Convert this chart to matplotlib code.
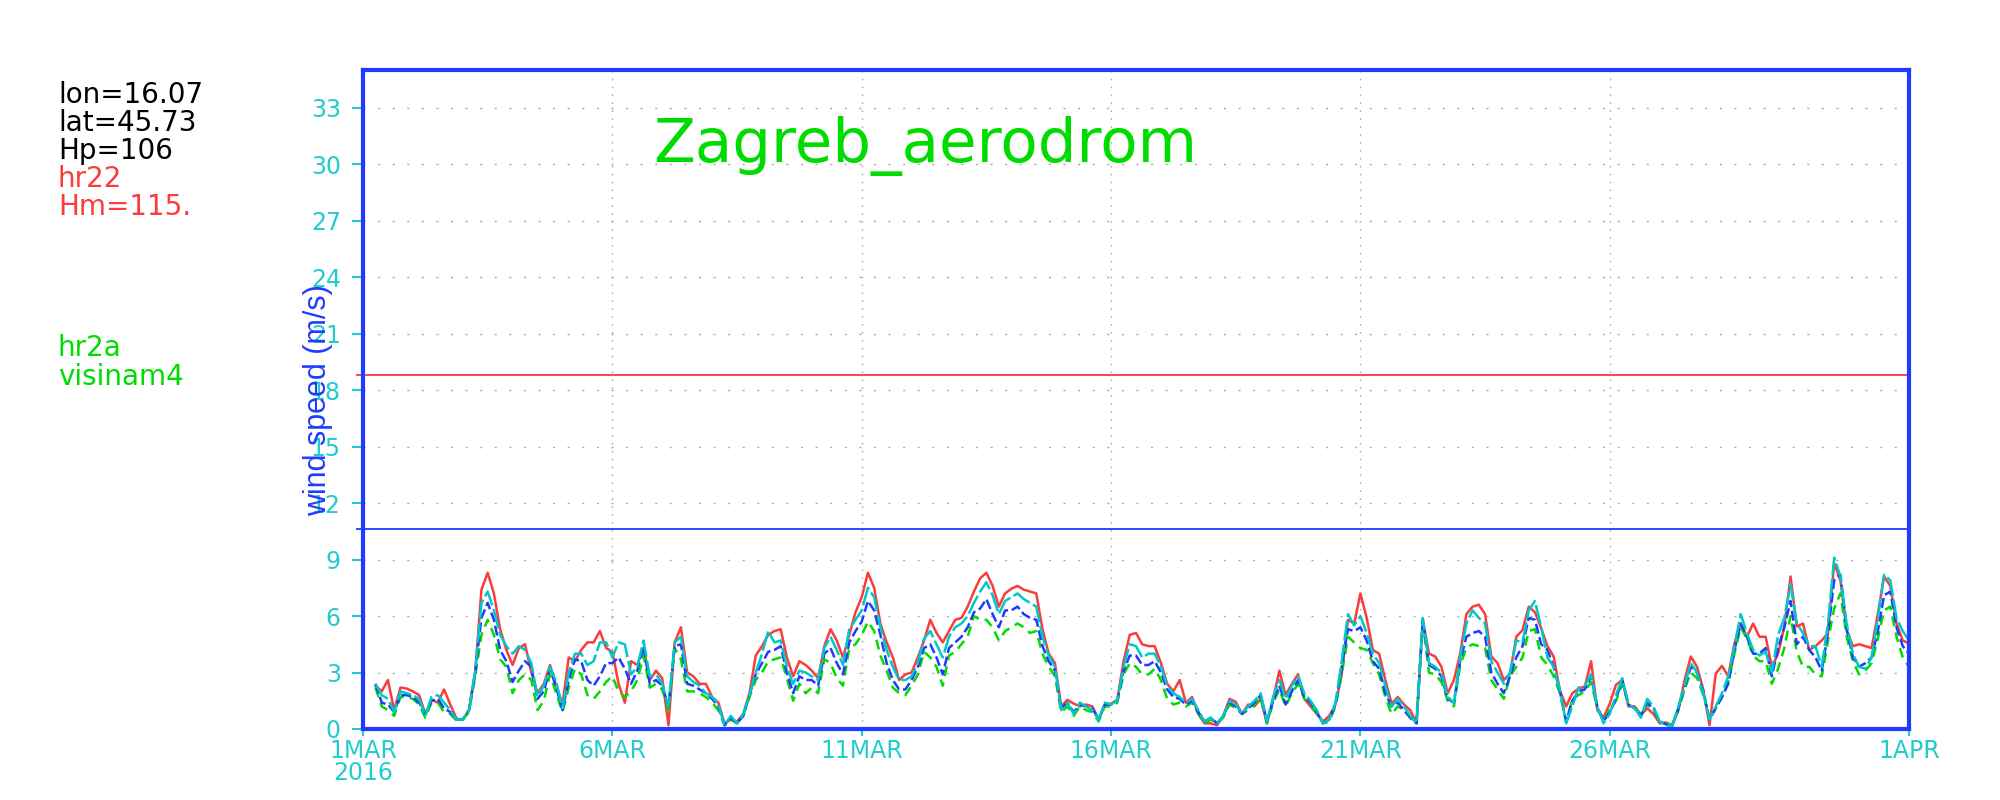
"""
plot.py
-------
Wind speed at Zagreb aerodrom, March 2016: model hr22 vs hr2a runs.
Values are 3-hourly, read off the original GrADS figure.
"""

import matplotlib

matplotlib.use("Agg")
import matplotlib.pyplot as plt
import numpy as np
import pandas as pd

nan = np.nan

# --------------------------------------------------------------------------- #
# Data (m/s), one row per day, 00..21 UTC every 3 h, plus 1 APR 00
# --------------------------------------------------------------------------- #
hr22_red = [
    nan, nan, 2.3, 2.0, 2.6, 1.0, 2.2, 2.15,
    2.0, 1.8, 0.8, 1.55, 1.4, 2.1, 1.3, 0.55,
    0.5, 1.0, 3.0, 7.4, 8.3, 7.2, 5.3, 4.2,
    3.4, 4.3, 4.5, 3.0, 1.9, 2.4, 3.4, 2.3,
    1.3, 3.8, 3.6, 4.2, 4.6, 4.6, 5.2, 4.3,
    4.1, 2.4, 1.4, 3.6, 3.4, 4.3, 2.6, 3.1,
    2.7, 0.2, 4.6, 5.4, 3.0, 2.8, 2.4, 2.4,
    1.7, 1.4, 0.3, 0.5, 0.4, 0.8, 1.9, 3.9,
    4.4, 5.0, 5.2, 5.3, 3.8, 2.8, 3.6, 3.4,
    3.1, 2.7, 4.4, 5.3, 4.7, 3.8, 5.0, 6.2,
    7.0, 8.3, 7.5, 5.6, 4.6, 3.8, 2.6, 2.9,
    3.0, 3.8, 4.7, 5.8, 5.1, 4.6, 5.2, 5.8,
    5.9, 6.5, 7.3, 8.0, 8.3, 7.6, 6.5, 7.2,
    7.45, 7.6, 7.4, 7.3, 7.2, 5.3, 4.0, 3.5,
    1.2, 1.55, 1.35, 1.2, 1.3, 1.2, 0.5, 1.3,
    1.35, 1.55, 3.6, 5.0, 5.1, 4.5, 4.4, 4.4,
    3.5, 2.4, 2.0, 2.6, 1.4, 1.7, 0.8, 0.3,
    0.3, 0.2, 0.7, 1.6, 1.45, 0.8, 1.3, 1.2,
    1.6, 0.3, 1.6, 3.1, 1.8, 2.4, 2.9, 1.6,
    1.2, 0.8, 0.4, 0.7, 1.3, 2.9, 5.8, 5.6,
    7.2, 5.9, 4.2, 4.0, 2.6, 1.35, 1.7, 1.3,
    1.0, 0.3, 5.8, 4.0, 3.85, 3.3, 1.9, 2.6,
    4.0, 6.1, 6.5, 6.6, 6.1, 3.85, 3.5, 2.6,
    2.95, 4.9, 5.25, 6.5, 6.2, 5.35, 4.4, 3.85,
    2.05, 1.2, 1.9, 2.15, 2.25, 3.6, 1.0, 0.6,
    1.35, 2.35, 2.6, 1.2, 1.2, 0.75, 1.1, 0.8,
    0.3, 0.35, 0.2, 1.0, 2.6, 3.85, 3.3, 2.1,
    0.2, 2.95, 3.35, 2.8, 4.55, 5.6, 4.9, 5.6,
    4.9, 4.9, 3.3, 4.0, 5.45, 8.1, 5.45, 5.6,
    4.2, 4.4, 4.7, 5.1, 8.8, 7.9, 5.25, 4.4,
    4.5, 4.4, 4.3, 6.1, 8.1, 7.6, 5.6, 4.7,
    4.55,
]

green_run = [
    nan, nan, 2.2, 1.2, 1.0, 0.7, 1.7, 1.7,
    1.6, 1.3, 0.6, 1.4, 1.4, 0.9, 0.8, 0.45,
    0.5, 0.9, 2.8, 5.0, 5.8, 5.0, 3.7, 3.3,
    1.9, 2.6, 2.9, 2.6, 1.0, 1.5, 2.9, 1.9,
    0.9, 2.2, 3.2, 2.9, 1.8, 1.6, 2.0, 2.5,
    2.8, 2.0, 1.7, 2.0, 2.6, 3.9, 2.2, 2.4,
    2.1, 1.0, 4.3, 3.7, 2.0, 2.0, 1.9, 1.7,
    1.4, 1.0, 0.2, 0.5, 0.3, 0.7, 1.7, 2.6,
    3.0, 3.6, 3.7, 3.8, 2.7, 1.5, 2.4, 1.9,
    2.2, 1.9, 3.7, 3.5, 2.7, 2.3, 4.3, 4.5,
    5.0, 5.7, 5.2, 3.9, 3.1, 2.2, 1.9, 1.8,
    2.3, 2.9, 4.1, 3.8, 3.3, 2.3, 3.9, 4.1,
    4.5, 4.9, 6.0, 5.8, 5.8, 5.4, 4.7, 5.2,
    5.4, 5.6, 5.4, 5.1, 5.2, 4.0, 3.3, 2.8,
    0.9, 1.2, 0.7, 1.2, 1.0, 0.9, 0.4, 1.2,
    1.2, 1.4, 2.9, 3.5, 3.3, 2.9, 2.9, 3.2,
    2.6, 1.6, 1.3, 1.4, 1.2, 1.4, 0.8, 0.3,
    0.5, 0.3, 0.6, 1.3, 1.1, 0.8, 1.0, 1.3,
    1.7, 0.3, 1.4, 2.1, 1.2, 1.9, 2.4, 1.6,
    1.3, 0.8, 0.3, 0.4, 1.2, 2.9, 4.9, 4.6,
    4.3, 4.2, 3.5, 2.9, 1.7, 0.8, 1.2, 1.0,
    0.6, 0.3, 5.7, 3.0, 2.9, 2.5, 1.5, 1.2,
    3.4, 4.3, 4.5, 4.4, 4.3, 2.6, 2.1, 1.6,
    2.8, 3.3, 3.8, 5.2, 5.3, 3.8, 3.4, 2.8,
    1.9, 0.4, 1.6, 1.8, 2.0, 2.5, 1.1, 0.5,
    1.0, 1.5, 2.4, 1.3, 1.1, 0.8, 1.3, 1.0,
    0.4, 0.3, 0.2, 1.0, 2.1, 3.0, 2.7, 1.8,
    0.6, 1.1, 1.7, 2.5, 4.0, 5.4, 4.8, 3.9,
    3.6, 3.6, 2.4, 3.2, 4.3, 6.0, 4.1, 3.3,
    3.3, 2.9, 2.8, 4.7, 6.4, 7.2, 4.9, 3.6,
    2.9, 3.1, 3.5, 4.8, 6.3, 6.5, 4.9, 3.8,
    3.3,
]

blue_run = [
    nan, nan, 2.4, 1.4, 1.3, 0.9, 1.8, 1.8,
    1.7, 1.4, 0.8, 1.5, 1.6, 1.1, 0.9, 0.5,
    0.5, 1.0, 3.0, 5.9, 6.7, 5.8, 4.2, 3.6,
    2.5, 3.1, 3.6, 3.3, 1.6, 2.0, 3.2, 2.2,
    1.0, 2.6, 3.7, 3.6, 2.6, 2.3, 2.8, 3.5,
    3.5, 3.8, 3.2, 2.4, 3.1, 4.4, 2.4, 2.6,
    2.3, 1.2, 4.4, 4.5, 2.4, 2.3, 2.1, 1.9,
    1.6, 1.2, 0.2, 0.6, 0.3, 0.7, 1.8, 2.9,
    3.5, 4.1, 4.2, 4.4, 3.0, 1.9, 2.8, 2.6,
    2.6, 2.3, 4.0, 4.3, 3.5, 2.9, 4.6, 5.2,
    5.7, 6.8, 6.3, 5.0, 3.5, 2.6, 2.1, 2.1,
    2.6, 3.3, 4.3, 4.5, 3.8, 2.9, 4.3, 4.6,
    4.9, 5.4, 6.2, 6.4, 6.9, 6.1, 5.4, 6.3,
    6.3, 6.5, 6.1, 5.9, 5.8, 4.4, 3.6, 3.1,
    1.1, 1.4, 0.9, 1.3, 1.2, 1.1, 0.5, 1.3,
    1.3, 1.5, 3.1, 3.9, 3.9, 3.4, 3.4, 3.6,
    3.0, 2.1, 1.7, 1.6, 1.3, 1.5, 0.9, 0.4,
    0.6, 0.3, 0.7, 1.4, 1.2, 0.8, 1.1, 1.4,
    1.8, 0.4, 1.5, 2.3, 1.3, 2.0, 2.6, 1.7,
    1.4, 0.9, 0.3, 0.5, 1.3, 3.3, 5.3, 5.2,
    5.4, 4.7, 3.6, 3.2, 1.9, 1.2, 1.4, 1.0,
    0.6, 0.3, 5.8, 3.4, 3.2, 2.8, 1.6, 1.4,
    3.6, 4.9, 5.1, 5.2, 4.9, 3.0, 2.4, 1.9,
    2.8, 3.8, 4.4, 5.9, 5.8, 4.5, 4.2, 3.3,
    2.0, 0.4, 1.5, 2.0, 2.1, 2.8, 1.2, 0.4,
    0.9, 1.6, 2.6, 1.3, 1.1, 0.7, 1.4, 1.1,
    0.4, 0.25, 0.15, 1.1, 2.2, 3.3, 3.0, 2.0,
    0.5, 1.1, 1.7, 2.4, 4.2, 5.6, 4.9, 4.0,
    4.0, 4.3, 2.8, 4.3, 5.4, 6.8, 4.5, 4.9,
    4.2, 3.8, 3.1, 5.1, 7.9, 8.2, 5.3, 3.8,
    3.3, 3.5, 3.8, 5.2, 7.1, 7.3, 5.4, 4.4,
    4.0,
]

cyan_run = [
    nan, nan, 2.4, 1.8, 1.6, 0.9, 2.0, 1.9,
    1.8, 1.6, 0.7, 1.7, 1.8, 1.4, 1.0, 0.5,
    0.5, 1.0, 3.1, 6.7, 7.3, 6.3, 5.0, 4.4,
    4.0, 4.4, 4.2, 3.5, 1.7, 2.3, 3.3, 2.5,
    1.1, 3.0, 4.0, 4.0, 3.4, 3.6, 4.6, 4.6,
    3.8, 4.6, 4.5, 2.9, 3.3, 4.7, 2.8, 2.9,
    2.4, 1.2, 4.6, 4.9, 2.8, 2.5, 2.3, 1.9,
    1.7, 1.3, 0.2, 0.7, 0.3, 0.8, 1.8, 3.0,
    4.0, 5.2, 4.6, 4.7, 3.3, 2.4, 3.1, 3.0,
    2.8, 2.6, 4.3, 4.9, 4.2, 3.4, 5.3, 5.8,
    6.3, 7.5, 7.0, 5.4, 4.2, 3.3, 2.6, 2.6,
    2.8, 3.5, 4.8, 5.2, 4.5, 3.8, 4.9, 5.4,
    5.6, 6.0, 6.7, 7.3, 7.8, 7.1, 6.1, 6.8,
    7.0, 7.2, 6.9, 6.7, 6.5, 4.9, 3.9, 3.3,
    1.0, 1.4, 0.8, 1.4, 1.2, 1.0, 0.5, 1.4,
    1.3, 1.5, 3.3, 4.5, 4.4, 3.8, 4.0, 4.0,
    3.3, 2.3, 1.9, 1.7, 1.4, 1.6, 1.0, 0.4,
    0.6, 0.3, 0.7, 1.5, 1.3, 0.8, 1.2, 1.5,
    1.9, 0.4, 1.7, 2.6, 1.6, 2.3, 2.8, 1.9,
    1.5, 1.0, 0.3, 0.5, 1.4, 3.6, 6.1, 5.5,
    6.0, 5.1, 4.0, 3.5, 2.3, 1.2, 1.6, 1.2,
    0.7, 0.3, 5.9, 3.5, 3.3, 3.0, 1.7, 1.4,
    3.8, 5.6, 6.3, 5.9, 5.6, 3.6, 3.0, 2.4,
    3.0, 4.7, 4.6, 6.3, 6.8, 5.4, 3.8, 3.3,
    2.1, 0.3, 1.2, 2.2, 2.3, 2.9, 1.2, 0.3,
    0.8, 1.8, 2.7, 1.3, 1.1, 0.6, 1.6, 1.2,
    0.4, 0.2, 0.15, 1.2, 2.3, 3.5, 3.0, 1.9,
    0.5, 1.2, 1.9, 2.8, 4.4, 6.1, 5.1, 4.2,
    3.9, 4.1, 3.0, 5.0, 5.9, 7.7, 5.6, 5.1,
    4.4, 4.4, 3.3, 5.6, 9.1, 8.1, 5.6, 4.0,
    3.3, 3.2, 3.8, 5.9, 8.2, 7.9, 5.9, 5.2,
    4.7,
]

# reference levels drawn across the panel
red_level = 18.8
blue_level = 10.6

yticks = list(range(0, 34, 3))
xtick_dates = ["2016-03-01", "2016-03-06", "2016-03-11", "2016-03-16",
               "2016-03-21", "2016-03-26", "2016-04-01"]
xtick_labels = ["1MAR\n2016", "6MAR", "11MAR", "16MAR", "21MAR", "26MAR", "1APR"]

info_black = ["lon=16.07", "lat=45.73", "Hp=106"]
info_red = ["hr22", "Hm=115."]
info_green = ["hr2a", "visinam4"]

# colours (GrADS defaults)
RED = "#fa3c3c"
GREEN = "#00dc00"
BLUE = "#1e3cff"
CYAN = "#00c8c8"
TICK = "#22cccc"
GRID = "#aaaaaa"

times = pd.date_range("2016-03-01", periods=len(hr22_red), freq="3h")

# --------------------------------------------------------------------------- #
# Figure
# --------------------------------------------------------------------------- #
fig = plt.figure(figsize=(20, 8), dpi=100)
ax = fig.add_axes([0.1815, 0.08875, 0.773, 0.82375])

ax.set_xlim(pd.Timestamp("2016-03-01"), pd.Timestamp("2016-04-01"))
ax.set_ylim(0, 35)

# dotted grid
for v in yticks[1:]:
    ax.axhline(v, color=GRID, lw=1.0, ls=(0, (1.5, 9)), zorder=1)
for d in xtick_dates[1:-1]:
    ax.axvline(pd.Timestamp(d), color=GRID, lw=1.0, ls=(0, (1.2, 4.5)), zorder=1)

# reference levels, slightly poking out to the left like in GrADS
ax.axhline(red_level, xmin=-0.004, xmax=1, color=RED, lw=1.3, clip_on=False, zorder=2)
ax.axhline(blue_level, xmin=-0.004, xmax=1, color=BLUE, lw=1.3, clip_on=False, zorder=2)

lw = 1.8
ax.plot(times, hr22_red, color=RED, lw=lw, zorder=3)
ax.plot(times, green_run, color=GREEN, lw=lw, ls=(0, (4, 2.5)), zorder=4)
ax.plot(times, blue_run, color=BLUE, lw=lw, ls=(0, (4, 1.5)), zorder=5)
ax.plot(times, cyan_run, color=CYAN, lw=lw, ls=(0, (8, 1.5)), zorder=6)

# axes frame + ticks
for sp in ax.spines.values():
    sp.set_color(BLUE)
    sp.set_linewidth(3)
    sp.set_zorder(10)

ax.set_yticks(yticks)
ax.set_yticklabels([str(v) for v in yticks])
ax.set_xticks([pd.Timestamp(d) for d in xtick_dates])
ax.set_xticklabels(xtick_labels, ha="center", va="top", linespacing=0.9)
ax.tick_params(axis="y", colors=TICK, length=8, width=1.5, pad=8,
               labelsize=17, direction="out")
ax.tick_params(axis="x", colors=TICK, length=5, width=1.5, pad=2,
               labelsize=17, direction="out")

# y label (tall condensed lettering in the original)
fig.text(0.159, 0.5, "wind speed (m/s)", rotation=90, color=BLUE,
         fontsize=22, ha="center", va="center",
         family=["Liberation Sans", "DejaVu Sans"])

# title inside the panel
fig.text(0.4625, 0.818, "Zagreb_aerodrom", color=GREEN, fontsize=44,
         ha="center", va="center")

# station / model info on the left
ys = [0.881, 0.846, 0.811, 0.776, 0.741]
for txt, y in zip(info_black + info_red, ys):
    col = "black" if txt in info_black else RED
    fig.text(0.029, y, txt, color=col, fontsize=20, ha="left", va="center")
for txt, y in zip(info_green, [0.565, 0.529]):
    fig.text(0.029, y, txt, color=GREEN, fontsize=20, ha="left", va="center")

fig.savefig("out.png", dpi=100)
